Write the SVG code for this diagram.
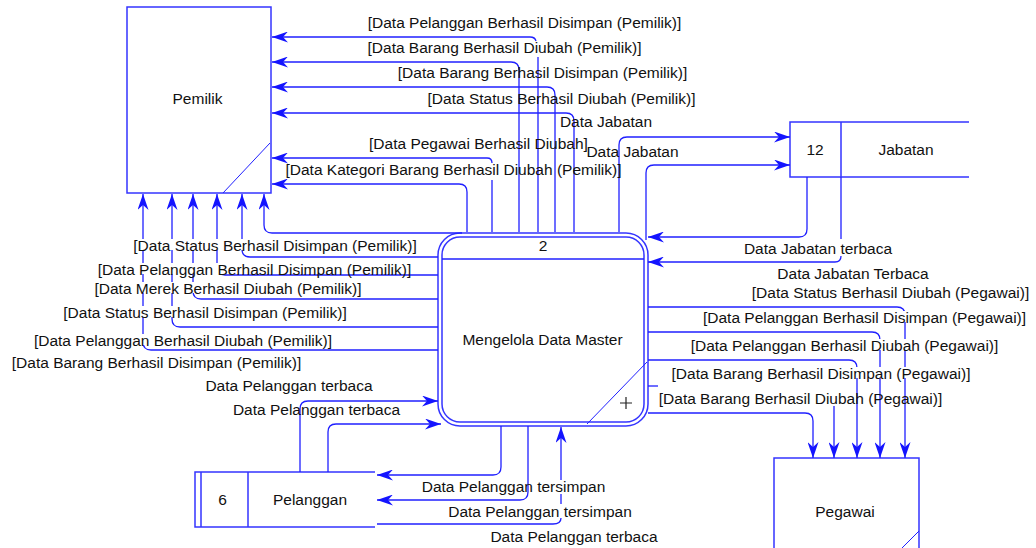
<svg xmlns="http://www.w3.org/2000/svg" width="1036" height="548" viewBox="0 0 1036 548">
<defs>
<marker id="ah" viewBox="0 0 16 11" refX="16" refY="5.5" markerWidth="16" markerHeight="11" markerUnits="userSpaceOnUse" orient="auto">
<path d="M16,5.5 L0,0 L5,5.5 L0,11 Z" fill="#1414ff"/>
</marker>
</defs>
<style>
.shape{fill:#fff;stroke:#3535ff;stroke-width:1.5}
.open{fill:none;stroke:#3535ff;stroke-width:1.5}
.thin{fill:none;stroke:#2020ff;stroke-width:1}
.edge{fill:none;stroke:#2020ff;stroke-width:1.3}
.arr{marker-end:url(#ah)}
text{font-family:"Liberation Sans",Arial,sans-serif;font-size:15.5px;fill:#111}
.c{text-anchor:middle}
.bg{fill:#fff}
</style>
<rect width="1036" height="548" fill="#fff"/>

<!-- external entity: Pemilik -->
<g id="pemilik">
<rect class="shape" x="127" y="7" width="144" height="186"/>
<line class="thin" x1="270" y1="143" x2="223" y2="193"/>
<text class="c" x="197.5" y="104">Pemilik</text>
</g>

<!-- process 2 -->
<g id="process-2">
<rect class="shape" x="438" y="233" width="210" height="193" rx="22"/>
<rect class="shape" x="442" y="237" width="202" height="185" rx="18"/>
<line class="edge" x1="442" y1="259" x2="644" y2="259"/>
<line class="thin" x1="647" y1="362" x2="587" y2="424"/>
<path d="M620,403 H632 M626,397 V409" fill="none" stroke="#222" stroke-width="1.2"/>
<text class="c" x="543" y="251">2</text>
<text class="c" x="542.5" y="345">Mengelola Data Master</text>
</g>

<!-- data store 12: Jabatan -->
<g id="store-jabatan">
<path class="open" d="M969,122 H790 V177 H969 M841,122 V177"/>
<text class="c" x="815" y="155">12</text>
<text class="c" x="906" y="155">Jabatan</text>
</g>

<!-- data store 6: Pelanggan -->
<g id="store-pelanggan">
<path class="open" d="M375,472 H195 V527 H375 M201,472 V527 M248,472 V527"/>
<text class="c" x="222.5" y="505">6</text>
<text class="c" x="310" y="505">Pelanggan</text>
</g>

<!-- external entity: Pegawai -->
<g id="pegawai">
<path class="open" d="M774,549 V458 H919 V549"/>
<line class="thin" x1="919" y1="531" x2="902" y2="548"/>
<text class="c" x="845" y="517">Pegawai</text>
</g>

<!-- data flows -->
<g id="connectors">
<!-- process -> Pemilik (right side) -->
<path class="edge" d="M538,232 V57"/>
<path class="edge arr" d="M536,41 Q535,37 530,37 H272"/>
<path class="edge arr" d="M519,232 V70 Q519,62 511,62 H272"/>
<path class="edge arr" d="M555,232 V95 Q555,87 547,87 H272"/>
<path class="edge arr" d="M574,232 V121 Q574,113 566,113 H272"/>
<path class="edge" d="M492,232 V180"/>
<path class="edge arr" d="M492,163 Q492,158 487,158 H272"/>
<path class="edge arr" d="M467,232 V192 Q467,184 459,184 H272"/>
<!-- process -> Pemilik (bottom side) -->
<path class="edge arr" d="M462,233 H272 Q264,233 264,225 V194"/>
<path class="edge arr" d="M438,257 H250 Q242,257 242,249 V194"/>
<path class="edge arr" d="M438,275 H225 Q217,275 217,267 V194"/>
<path class="edge arr" d="M438,299 H201 Q193,299 193,291 V194"/>
<path class="edge arr" d="M438,327 H180 Q172,327 172,319 V194"/>
<path class="edge arr" d="M438,350 H151 Q143,350 143,342 V194"/>
<!-- process <-> Jabatan -->
<path class="edge arr" d="M619,232 V145 Q619,137 627,137 H790"/>
<path class="edge arr" d="M646,240 V173 Q646,165 654,165 H790"/>
<path class="edge arr" d="M807,177 V229 Q807,237 799,237 H648"/>
<path class="edge" d="M841,177 V239"/>
<path class="edge arr" d="M841,256 Q841,262 835,262 H648"/>
<!-- process -> Pegawai -->
<path class="edge arr" d="M648,413 H805 Q813,413 813,421 V458"/>
<path class="edge" d="M648,386 H658"/>
<path class="edge arr" d="M834,406 V458"/>
<path class="edge arr" d="M648,360 H849 Q857,360 857,368 V458"/>
<path class="edge arr" d="M648,332 H872 Q880,332 880,340 V458"/>
<path class="edge arr" d="M648,307 H897 Q905,307 905,315 V458"/>
<!-- Pelanggan <-> process -->
<path class="edge arr" d="M300,472 V409 Q300,401 308,401 H438"/>
<path class="edge arr" d="M328,472 V432 Q328,424 336,424 H441"/>
<path class="edge arr" d="M501,426 V467 Q501,475 493,475 H377"/>
<path class="edge arr" d="M528,426 V492 Q528,500 520,500 H377"/>
<path class="edge" d="M377,524 H553 Q561,524 561,518 M561,504 V494"/>
<path class="edge arr" d="M561,480 V427"/>
</g>

<!-- flow labels -->
<g id="labels">
<text class="c" x="524.5" y="28">[Data Pelanggan Berhasil Disimpan (Pemilik)]</text>
<text class="c" x="504.5" y="53">[Data Barang Berhasil Diubah (Pemilik)]</text>
<text class="c" x="542.5" y="78">[Data Barang Berhasil Disimpan (Pemilik)]</text>
<text class="c" x="561.5" y="104">[Data Status Berhasil Diubah (Pemilik)]</text>
<text class="c" x="606" y="127">Data Jabatan</text>
<text class="c" x="478.5" y="149">[Data Pegawai Berhasil Diubah]</text>
<text class="c" x="632.5" y="157">Data Jabatan</text>
<text class="c" x="453.5" y="175">[Data Kategori Barang Berhasil Diubah (Pemilik)]</text>
<text class="c" x="818" y="254">Data Jabatan terbaca</text>
<text class="c" x="853" y="279">Data Jabatan Terbaca</text>

<rect class="bg" x="133" y="239" width="284" height="11"/>
<text class="c" x="275" y="251">[Data Status Berhasil Disimpan (Pemilik)]</text>
<rect class="bg" x="98" y="263" width="313" height="11"/>
<text class="c" x="254.5" y="275">[Data Pelanggan Berhasil Disimpan (Pemilik)]</text>
<rect class="bg" x="94" y="282" width="268" height="11"/>
<text class="c" x="228" y="294">[Data Merek Berhasil Diubah (Pemilik)]</text>
<rect class="bg" x="63" y="306" width="284" height="11"/>
<text class="c" x="205" y="318">[Data Status Berhasil Disimpan (Pemilik)]</text>
<rect class="bg" x="34" y="334" width="298" height="11"/>
<text class="c" x="183" y="346">[Data Pelanggan Berhasil Diubah (Pemilik)]</text>
<text class="c" x="156.5" y="368">[Data Barang Berhasil Disimpan (Pemilik)]</text>

<text class="c" x="890.5" y="298">[Data Status Berhasil Diubah (Pegawai)]</text>
<rect class="bg" x="703" y="311" width="323" height="11"/>
<text class="c" x="864.5" y="323">[Data Pelanggan Berhasil Disimpan (Pegawai)]</text>
<rect class="bg" x="691" y="339" width="307" height="11"/>
<text class="c" x="844.5" y="351">[Data Pelanggan Berhasil Diubah (Pegawai)]</text>
<rect class="bg" x="672" y="367" width="298" height="11"/>
<text class="c" x="821" y="379">[Data Barang Berhasil Disimpan (Pegawai)]</text>
<text class="c" x="800.5" y="404">[Data Barang Berhasil Diubah (Pegawai)]</text>

<text class="c" x="289" y="391">Data Pelanggan terbaca</text>
<text class="c" x="316.5" y="415">Data Pelanggan terbaca</text>
<text class="c" x="513.5" y="492">Data Pelanggan tersimpan</text>
<text class="c" x="540" y="517">Data Pelanggan tersimpan</text>
<text class="c" x="574" y="542">Data Pelanggan terbaca</text>
</g>
</svg>
